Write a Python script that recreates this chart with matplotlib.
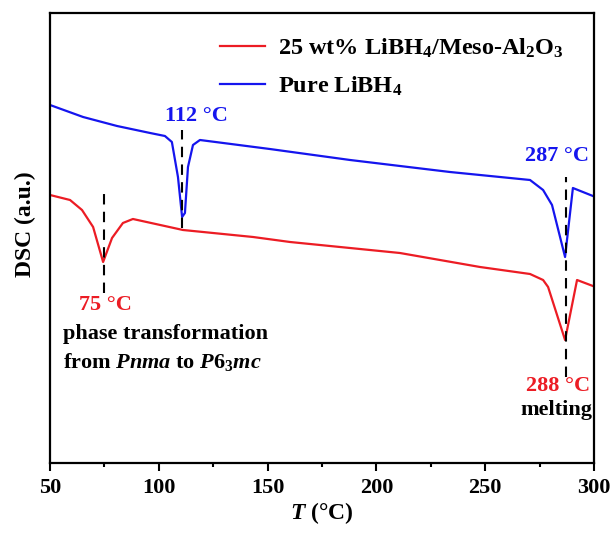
import matplotlib
matplotlib.use("Agg")
import matplotlib.pyplot as plt
from matplotlib.ticker import MultipleLocator

plt.rcParams['font.family'] = ['Liberation Serif', 'DejaVu Serif']
plt.rcParams['font.weight'] = 'bold'
plt.rcParams['axes.labelweight'] = 'bold'
plt.rcParams['mathtext.fontset'] = 'custom'
plt.rcParams['mathtext.rm'] = 'Liberation Serif:bold'
plt.rcParams['mathtext.bf'] = 'Liberation Serif:bold'
plt.rcParams['mathtext.it'] = 'Liberation Serif:italic:bold'

# DSC traces (arbitrary units)
pure_T = [50, 65.2, 80.8, 96, 102.8, 106, 108.8, 110.7, 112, 113.4, 115.7, 118.9,
          151, 187.9, 233.8, 256.8, 270.6, 276.6, 280.7, 286.7, 290.3, 299.5]
pure_dsc = [358, 346, 337, 330, 327, 321, 286, 246, 250, 296, 318, 323,
            314, 303, 291, 286, 283, 273, 258, 206, 275, 267]

meso_T = [50, 59.2, 64.7, 69.8, 74.4, 78.5, 83.5, 88.1, 111.1, 143.3, 160.3,
          210.8, 247.6, 270.6, 276.6, 278.9, 286.7, 292.2, 299.5]
meso_dsc = [268, 263, 253, 236, 201, 225, 240, 244, 233, 226, 221,
            210, 196, 189, 183, 176, 123, 183, 177]

# peak markers: temperature, lower end, upper end
peak_T = [74.8, 110.7, 287.1]
peak_lo = [170, 235, 86]
peak_hi = [271, 333, 286]

fig = plt.figure(figsize=(6.16, 5.35), dpi=100)
ax = fig.add_axes([0.0812, 0.1346, 0.8831, 0.8411])

ax.plot(meso_T, meso_dsc, color='#ec1c24', lw=1.6,
        label=r'25 wt% LiBH$_4$/Meso-Al$_2$O$_3$')
ax.plot(pure_T, pure_dsc, color='#1515ee', lw=1.6, label=r'Pure LiBH$_4$')

for t, lo, hi in zip(peak_T, peak_lo, peak_hi):
    ax.vlines(t, lo, hi, colors='black', linestyles=(0, (5, 3.5)), lw=1.5)

ax.text(117.5, 347, '112 °C', color='#1515ee', fontsize=16, ha='center', va='center')
ax.text(283, 307, '287 °C', color='#1515ee', fontsize=16, ha='center', va='center')
ax.text(75.3, 158, '75 °C', color='#ec1c24', fontsize=16, ha='center', va='center')
ax.text(283.5, 77, '288 °C', color='#ec1c24', fontsize=16, ha='center', va='center')
ax.text(282.5, 53, 'melting', color='black', fontsize=16, ha='center', va='center')
ax.text(56, 129, 'phase transformation', fontsize=16, ha='left', va='center')
ax.text(56, 101, r'from $\mathit{Pnma}$ to $\mathit{P}$6$_3$$\mathit{mc}$',
        fontsize=16, ha='left', va='center')

ax.set_xlim(50, 300)
ax.set_ylim(0, 450)
ax.xaxis.set_major_locator(MultipleLocator(50))
ax.xaxis.set_minor_locator(MultipleLocator(25))
ax.set_yticks([])
ax.tick_params(axis='x', which='major', direction='out', length=6, width=1.5,
               labelsize=16, pad=5)
ax.tick_params(axis='x', which='minor', direction='out', length=3, width=1.5)
for s in ax.spines.values():
    s.set_linewidth(1.6)

ax.set_xlabel(r'$T$ (°C)', fontsize=17, labelpad=1)
ax.set_ylabel('DSC (a.u.)', fontsize=17)
ax.yaxis.set_label_coords(-0.025, 0.53)

ax.legend(loc='upper left', bbox_to_anchor=(0.3125, 0.947), frameon=False,
          fontsize=17.5, handlelength=1.85, handletextpad=0.55, labelspacing=0.6,
          borderaxespad=0, borderpad=0)

fig.savefig('out.png', dpi=100)
